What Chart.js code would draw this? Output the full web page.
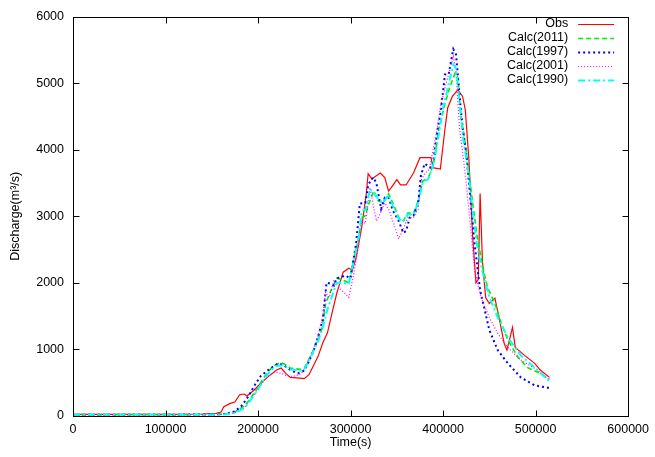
<!DOCTYPE html>
<html><head><meta charset="utf-8">
<script src="https://cdn.jsdelivr.net/npm/chart.js@4.4.1/dist/chart.umd.min.js"></script>
<style>html,body{margin:0;padding:0;background:#fff;overflow:hidden}canvas{display:block}</style>
</head><body>
<canvas id="c" width="655" height="457"></canvas>
<script>
// ---- data (time in s, discharge in m3/s) ----
const seriesLabels = ["Obs", "Calc(2011)", "Calc(1997)", "Calc(2001)", "Calc(1990)"];
const xTickValues = [0, 100000, 200000, 300000, 400000, 500000, 600000];
const yTickValues = [0, 1000, 2000, 3000, 4000, 5000, 6000];

const obsTime = [0,50000,100000,140000,155000,160000,163000,170000,175000,180000,185000,188000,195000,200000,210000,220000,225000,230000,235000,245000,250000,255000,260000,265000,270000,275000,280000,285000,292000,298000,302000,306000,312000,317000,319000,323000,332000,337000,341000,344000,350000,354000,360000,368000,375000,387000,389000,397000,402000,405000,410000,416000,421000,424000,428000,432000,435500,438000,440000,442500,446000,450000,456000,461000,466000,469000,475000,478000,488000,499000,505000,515000];
const obsQ = [25,25,25,30,40,60,140,190,210,320,330,300,380,450,580,690,720,640,580,570,560,620,760,900,1100,1250,1550,1840,2160,2220,2190,2380,2830,3340,3640,3560,3650,3580,3380,3430,3550,3470,3470,3650,3880,3880,3730,3710,4310,4630,4800,4900,4800,4600,3830,2680,2000,2050,3340,2330,1780,1690,1770,1440,1090,990,1330,1030,910,790,690,580];

const calc2011Time = [0,50000,100000,150000,165000,175000,185000,190000,195000,200000,205000,210000,215000,220000,225000,230000,235000,245000,250000,255000,260000,265000,270000,273000,278000,285000,292000,298000,303000,309000,312000,316000,319000,325000,330000,335000,341000,346000,352000,357000,362000,368000,373000,378000,384000,387000,391000,395000,402000,407000,413000,416000,419000,424000,432000,437000,443000,448000,456000,463000,470000,481000,491000,505000,515000];
const calc2011Q = [20,20,20,22,30,60,150,230,330,430,550,650,730,780,800,770,720,700,720,850,1000,1150,1350,1690,1860,2070,2040,2000,2340,2680,2980,3010,3160,3380,3230,3200,3340,3190,2980,2930,3050,3040,3230,3530,3580,3680,3880,4280,4690,4930,5150,5080,4540,4090,3190,2680,2230,1930,1690,1390,1140,880,730,640,550];

const calc1997Time = [0,50000,100000,150000,165000,175000,182000,188000,193000,198000,203000,210000,216000,222000,228000,235000,243000,250000,255000,260000,265000,270000,274000,278000,282000,285000,289000,294000,300000,306000,310000,316000,319000,322000,325000,328000,333000,337000,341000,346000,352000,357000,360000,364000,368000,373000,376000,380000,386000,389000,393000,397000,400000,402000,406000,411000,414000,418000,421000,425000,430000,434000,440000,445000,450000,459000,470000,484000,499000,515000];
const calc1997Q = [20,20,20,22,30,70,150,260,380,500,600,680,740,790,760,690,640,680,820,980,1200,1450,2000,1990,1960,2070,2080,2110,2070,2590,3190,3200,3460,3550,3580,3490,3110,3280,3280,3080,2930,2750,2780,2980,3010,3190,3610,3790,3730,3790,4200,4540,4880,5130,5130,5510,5430,4780,4330,3940,3190,2590,1890,1590,1290,990,790,580,460,420];

const calc2001Time = [0,50000,100000,150000,165000,175000,185000,192000,200000,208000,214000,219000,225000,230000,236000,245000,250000,255000,260000,265000,270000,273000,277000,282000,287000,294000,298000,303000,309000,312000,316000,321000,325000,328000,332000,337000,342000,348000,352000,357000,362000,368000,373000,376000,380000,385000,389000,393000,397000,402000,407000,411000,414000,416000,418000,421000,425000,429000,434000,441000,450000,459000,470000,484000,502000,515000];
const calc2001Q = [15,15,15,18,25,50,120,250,400,570,630,660,640,610,590,620,700,850,1000,1200,1500,1860,1780,2040,1930,1840,1780,2100,2590,2930,2890,3430,3130,2930,3040,3200,3080,2830,2660,2810,2980,2980,3110,3530,3640,3700,3980,4280,4630,4930,5180,5400,5180,4690,4280,3980,3500,2930,2190,1780,1480,1240,1030,840,690,540];

const calc1990Time = [0,50000,100000,150000,165000,175000,185000,190000,195000,200000,205000,210000,215000,220000,225000,230000,235000,245000,250000,255000,260000,265000,270000,275000,280000,285000,292000,298000,303000,309000,312000,316000,321000,325000,330000,335000,341000,346000,352000,357000,362000,368000,373000,378000,384000,389000,395000,400000,405000,411000,414000,418000,422000,427000,432000,437000,443000,450000,459000,470000,484000,502000,515000];
const calc1990Q = [18,18,18,20,25,45,120,200,300,400,520,620,700,750,760,740,700,680,700,820,980,1130,1330,1600,1800,2000,2000,1980,2300,2700,3080,3100,3410,3350,3260,3200,3320,3150,2960,2920,3030,3020,3200,3500,3560,3750,4200,4630,4930,5280,5220,4690,4130,3700,3080,2530,2140,1780,1480,1180,910,690,520];

// ---- build ----
const toXY = (t, q) => t.map((v, i) => ({ x: v, y: q[i] }));
const FONT = "'Liberation Sans', Arial, Helvetica, sans-serif";
const TXT = '#000';

const datasets = [
  { label: seriesLabels[0], data: toXY(obsTime, obsQ), borderColor: '#ff0000', borderWidth: 1.2, borderDash: [], order: 5 },
  { label: seriesLabels[1], data: toXY(calc2011Time, calc2011Q), borderColor: '#00ee00', borderWidth: 1.6, borderDash: [5, 3], order: 4 },
  { label: seriesLabels[2], data: toXY(calc1997Time, calc1997Q), borderColor: '#0000ff', borderWidth: 2, borderDash: [2, 3], order: 3 },
  { label: seriesLabels[3], data: toXY(calc2001Time, calc2001Q), borderColor: '#ff00ff', borderWidth: 1.2, borderDash: [1, 2], order: 2 },
  { label: seriesLabels[4], data: toXY(calc1990Time, calc1990Q), borderColor: '#00ffff', borderWidth: 2, borderDash: [7, 3, 2, 3], order: 1 }
].map(d => Object.assign(d, { pointRadius: 0, tension: 0, fill: false, showLine: true }));

const framePlugin = {
  id: 'gnuFrame',
  afterDraw(chart) {
    const { ctx, chartArea: a, scales: { x, y } } = chart;
    ctx.save();
    ctx.strokeStyle = '#000';
    ctx.lineWidth = 1;
    const L = Math.round(a.left) + 0.5, R = Math.round(a.right) + 0.5;
    const T = Math.round(a.top) + 0.5, B = Math.round(a.bottom) + 0.5;
    ctx.strokeRect(L, T, R - L, B - T);
    const tl = 6;
    ctx.beginPath();
    x.ticks.forEach(t => {
      const px = Math.round(x.getPixelForValue(t.value)) + 0.5;
      ctx.moveTo(px, B); ctx.lineTo(px, B - tl);
      ctx.moveTo(px, T); ctx.lineTo(px, T + tl);
    });
    y.ticks.forEach(t => {
      const py = Math.round(y.getPixelForValue(t.value)) + 0.5;
      ctx.moveTo(L, py); ctx.lineTo(L + tl, py);
      ctx.moveTo(R, py); ctx.lineTo(R - tl, py);
    });
    ctx.stroke();
    // key (top right)
    ctx.font = '12.5px ' + FONT;
    ctx.textAlign = 'right';
    ctx.textBaseline = 'middle';
    const textRight = a.right - 60, x0 = a.right - 50, x1 = a.right - 14;
    chart.data.datasets.forEach((d, i) => {
      const yy = a.top + 7 + i * 14;
      ctx.fillStyle = TXT;
      ctx.fillText(d.label, textRight, yy);
      ctx.beginPath();
      ctx.strokeStyle = d.borderColor;
      ctx.lineWidth = d.borderWidth;
      ctx.setLineDash(d.borderDash);
      ctx.moveTo(x0, Math.round(yy) + 0.5);
      ctx.lineTo(x1, Math.round(yy) + 0.5);
      ctx.stroke();
    });
    ctx.restore();
  }
};

new Chart(document.getElementById('c'), {
  type: 'line',
  data: { datasets },
  options: {
    responsive: false,
    animation: false,
    devicePixelRatio: 1,
    layout: { padding: { top: 15, right: 24, left: 0, bottom: 0 } },
    plugins: { legend: { display: false }, tooltip: { enabled: false } },
    scales: {
      x: {
        type: 'linear', position: 'bottom', min: 0, max: 600000,
        afterBuildTicks: s => { s.ticks = xTickValues.map(v => ({ value: v })); },
        afterFit: s => { s.height = 41; },
        ticks: { color: TXT, font: { family: FONT, size: 12.5 }, maxRotation: 0, padding: 6, callback: v => String(v) },
        grid: { display: false, drawTicks: false },
        border: { display: false },
        title: { display: true, text: 'Time(s)', color: TXT, font: { family: FONT, size: 12.5 }, padding: { top: 0, bottom: 7 } }
      },
      y: {
        type: 'linear', position: 'left', min: 0, max: 6000,
        afterBuildTicks: s => { s.ticks = yTickValues.map(v => ({ value: v })); },
        afterFit: s => { s.width = 73; },
        ticks: { color: TXT, font: { family: FONT, size: 12.5 }, padding: 9, callback: v => String(v) },
        grid: { display: false, drawTicks: false },
        border: { display: false },
        title: { display: true, text: 'Discharge(m³/s)', color: TXT, font: { family: FONT, size: 12.5 }, padding: { top: 8, bottom: 0 } }
      }
    }
  },
  plugins: [framePlugin]
});
</script>
</body></html>
